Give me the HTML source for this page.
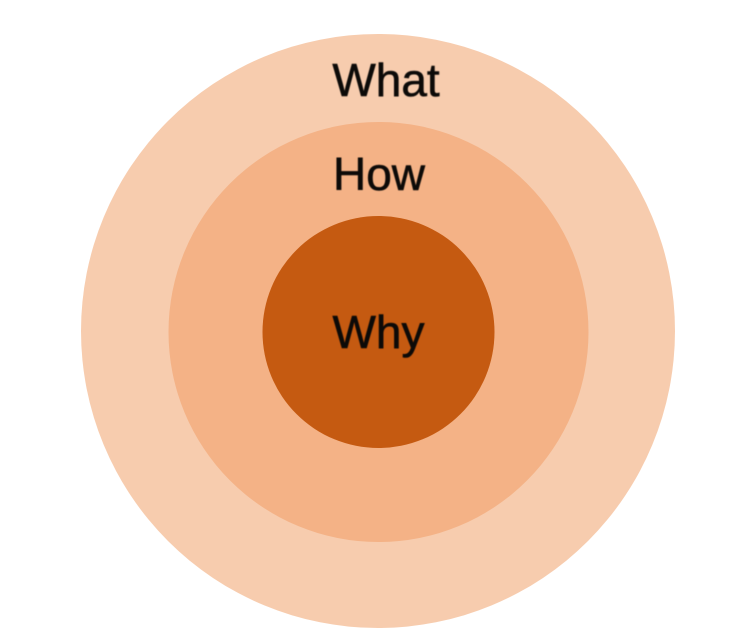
<!DOCTYPE html>
<html>
<head>
<meta charset="utf-8">
<style>
html,body{margin:0;padding:0;background:#fff;width:743px;height:637px;overflow:hidden}
svg{display:block}
text{font-family:"Liberation Sans",sans-serif;fill:#0c0a08;stroke:#0c0a08;stroke-width:0.6px;font-size:46px;text-anchor:middle;filter:blur(0.4px)}
</style>
</head>
<body>
<svg width="743" height="637" viewBox="0 0 743 637" xmlns="http://www.w3.org/2000/svg">
<rect width="743" height="637" fill="#ffffff"/>
<circle cx="378" cy="331" r="297" fill="#f7ccae"/>
<circle cx="378.500" cy="332" r="210" fill="#f4b286"/>
<circle cx="378.500" cy="332" r="116" fill="#c55a11"/>
<text x="386" y="96">What</text>
<text x="379" y="190">How</text>
<text x="378.500" y="348">Why</text>
</svg>
</body>
</html>
